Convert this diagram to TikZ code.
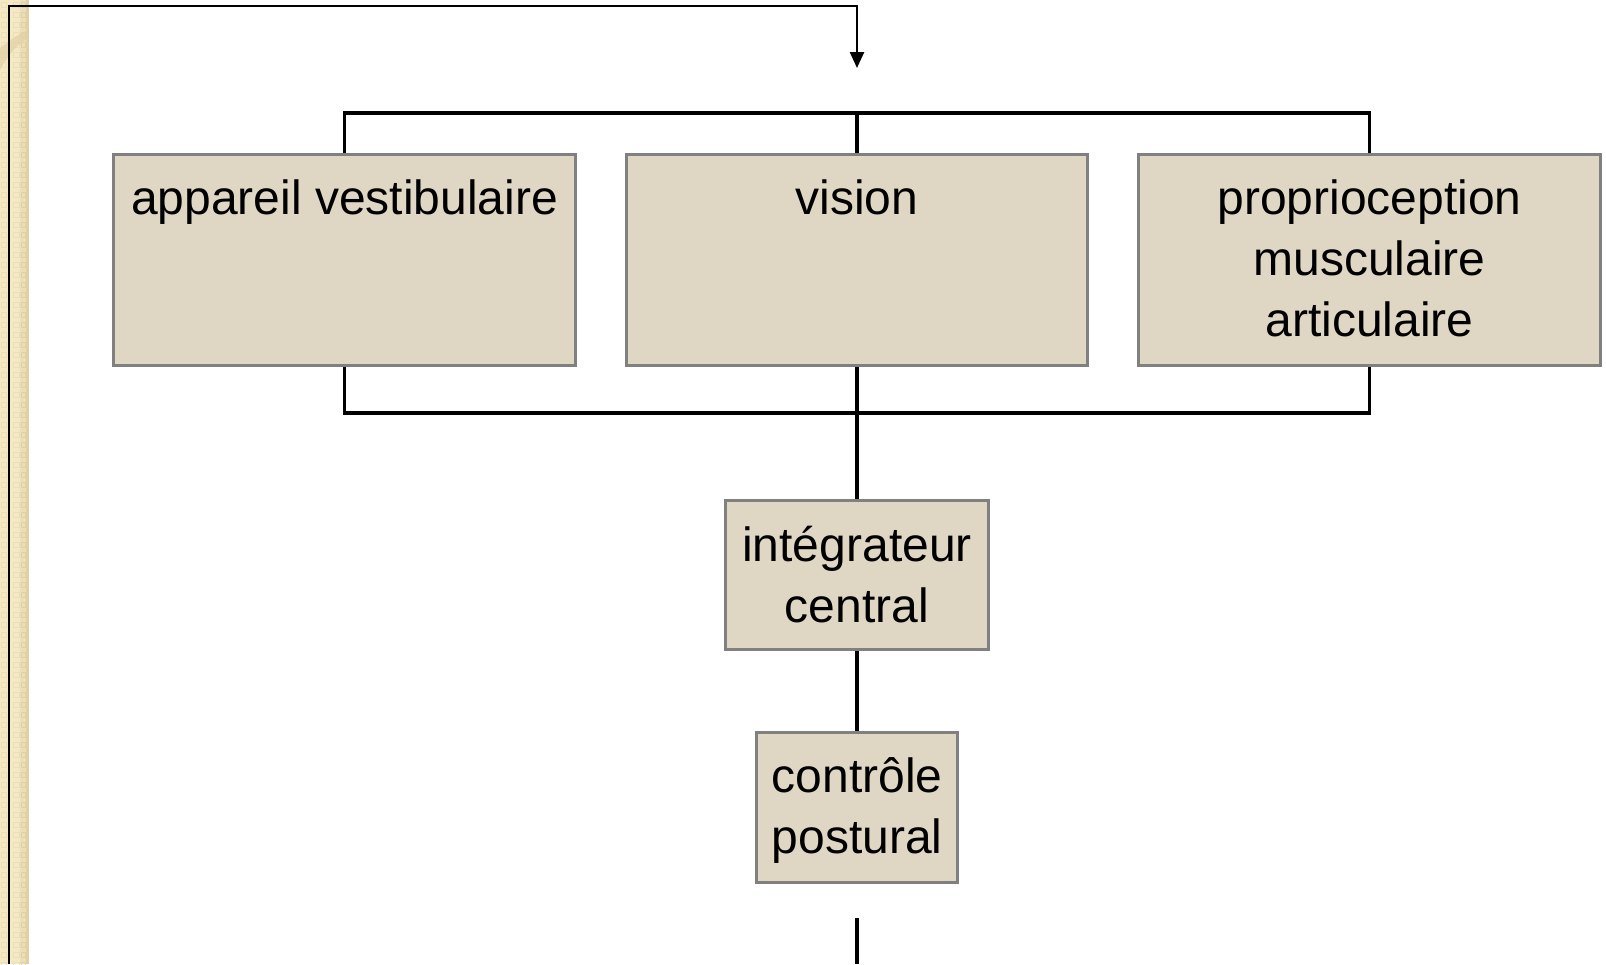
\documentclass[tikz,border=0pt]{standalone}
\usepackage{fontspec}
\setmainfont{Liberation Sans}
\usetikzlibrary{arrows.meta}
\definecolor{boxfill}{RGB}{223,215,196}
\definecolor{boxline}{RGB}{128,128,128}
\definecolor{strip}{RGB}{245,233,197}
\definecolor{stripmid}{RGB}{236,222,182}
\definecolor{stripdark}{RGB}{224,208,166}
\begin{document}
\begin{tikzpicture}[x=1pt,y=-1pt,
  box/.style={draw=boxline,fill=boxfill,line width=3pt,rectangle,inner sep=0pt},
  boxtext/.style={font=\fontsize{48}{61}\selectfont,align=center,inner sep=0pt,anchor=base},
  midbox/.style={box,font=\fontsize{48}{61}\selectfont,align=center},
  bus/.style={line width=3.5pt,draw=black},
  fb/.style={line width=2.5pt,draw=black}]
\useasboundingbox (0,0) rectangle (1606,964);
% left decorative strip
\fill[strip] (0,0) rectangle (29,964);
\fill[stripmid] (20,0) rectangle (29,964);
\fill[stripdark] (26,0) rectangle (29,964);
\foreach \yy in {0,10,...,960} {
  \draw[stripmid,line width=1pt] (1,\yy+2) rectangle (6,\yy+7);
  \draw[stripmid,line width=1pt] (13,\yy+2) rectangle (19,\yy+7);
  \draw[stripdark,line width=1pt] (21,\yy+2) rectangle (25,\yy+7);
}
\fill[stripdark,opacity=0.7] (0,48) .. controls (10,40) and (20,33) .. (29,30) -- (29,38) .. controls (20,42) and (10,52) .. (0,70) -- cycle;
% boxes
\node[box,minimum width=462pt,minimum height=211pt] (ves) at (344.5,260) {};
\node[box,minimum width=461pt,minimum height=211pt] (vis) at (857,260) {};
\node[box,minimum width=462pt,minimum height=211pt] (pro) at (1369.5,260) {};
\node[boxtext] (vest) at (344.5,214) {appareil vestibulaire};
\node[boxtext] (vist) at (857,214) {vision};
\node[boxtext] (prot) at (1369.5,336) {proprioception\\musculaire\\articulaire};
\node[midbox,minimum width=263pt,minimum height=149pt] (int) at (857,575) {intégrateur\\central};
\node[midbox,minimum width=201pt,minimum height=150pt,text depth=3pt] (con) at (857,807.5) {contrôle\\postural};
% top bus
\coordinate (tb) at (857,113);
\draw[bus] (ves.north) -- (ves.north |- tb) -- (pro.north |- tb) -- (pro.north);
\draw[bus] (tb) -- (vis.north);
% bottom bus
\coordinate (bb) at (857,413);
\draw[bus] (ves.south) -- (ves.south |- bb) -- (pro.south |- bb) -- (pro.south);
\draw[bus] (vis.south) -- (int.north);
\draw[bus] (int.south) -- (con.north);
% feedback line
\coordinate (fbstart) at (9,964);
\coordinate (fbend) at (857,68);
\draw[fb,-{Triangle[length=16pt,width=14pt]}] (fbstart) -- (9,6) -- (857,6) -- (fbend);
% bottom stub
\coordinate (bs1) at (857,918);
\coordinate (bs2) at (857,964);
\draw[bus] (bs1) -- (bs2);
\end{tikzpicture}
\end{document}
